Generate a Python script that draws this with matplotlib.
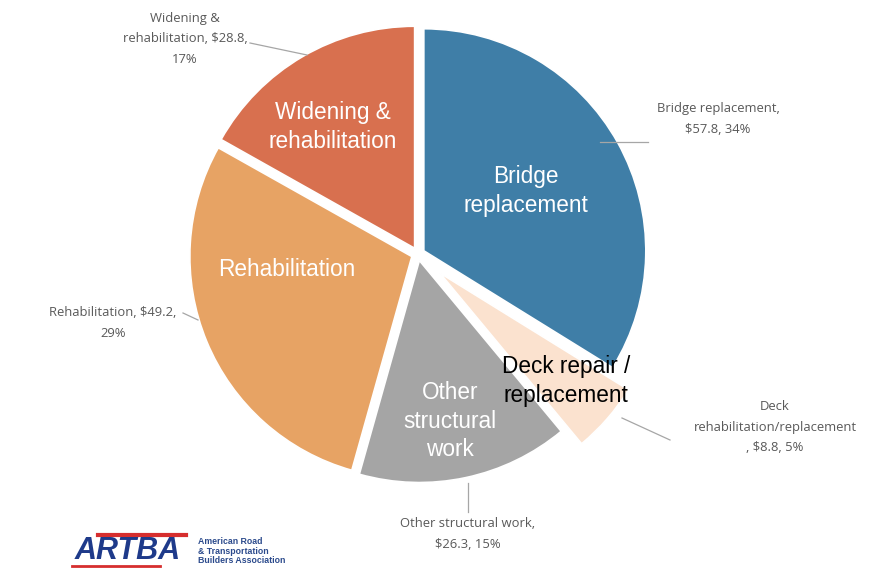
import matplotlib
matplotlib.use("Agg")
import matplotlib.pyplot as plt
from matplotlib.lines import Line2D

# ---- data ----
categories = ["Bridge replacement", "Deck rehabilitation/replacement",
              "Other structural work", "Rehabilitation", "Widening & rehabilitation"]
values = [57.8, 8.8, 26.3, 49.2, 28.8]
percents = [34, 5, 15, 29, 17]
inner_labels = ["Bridge\nreplacement", "Deck repair /\nreplacement",
                "Other\nstructural\nwork", "Rehabilitation", "Widening &\nrehabilitation"]
outer_labels = ["Bridge replacement,\n$57.8, 34%",
                "Deck\nrehabilitation/replacement\n, $8.8, 5%",
                "Other structural work,\n$26.3, 15%",
                "Rehabilitation, $49.2,\n29%",
                "Widening &\nrehabilitation, $28.8,\n17%"]

# ---- style ----
colors = ["#3F7EA7", "#FBE2CF", "#A5A5A5", "#E7A364", "#D8704F"]
explode = [0.03, 0.13, 0.03, 0.03, 0.03]
inner_colors = ["white", "black", "white", "white", "white"]

W, H = 879, 572
CX, CY, R = 418, 254, 222  # pixel centre (from top) and radius

fig = plt.figure(figsize=(W / 100, H / 100), dpi=100)
ax = fig.add_axes([0, 0, 1, 1])
ax.pie(values, colors=colors, startangle=90, counterclock=False,
       explode=explode, radius=1,
       wedgeprops=dict(edgecolor="white", linewidth=1.2))
ax.set_xlim(-CX / R, (W - CX) / R)
ax.set_ylim(-(H - CY) / R, CY / R)
ax.set_aspect("auto")
ax.axis("off")


def px(x, y):
    """pixel (from top-left) -> data coords"""
    return (x - CX) / R, (CY - y) / R


# inner labels
inner_pos = [(526, 191), (566, 381), (450, 421), (287, 270), (333, 127)]
for lab, (x, y), c in zip(inner_labels, inner_pos, inner_colors):
    ax.text(*px(x, y), lab, ha="center", va="center", color=c,
            fontsize=16.3, family="Liberation Sans", linespacing=1.3)

# outer labels
outer_pos = [(718, 119), (775, 427), (468, 534), (113, 323), (185, 39)]
for lab, (x, y) in zip(outer_labels, outer_pos):
    ax.text(*px(x, y), lab, ha="center", va="center", color="#595959",
            fontsize=9.4, family="Open Sans", linespacing=1.75)

# leader lines
leaders = [((600, 142), (648, 142)),
           ((622, 418), (670, 440)),
           ((468, 483), (468, 512)),
           ((183, 313), (198, 320)),
           ((250, 43), (307, 55))]
for (x1, y1), (x2, y2) in leaders:
    p1, p2 = px(x1, y1), px(x2, y2)
    ax.plot([p1[0], p2[0]], [p1[1], p2[1]], color="#A6A6A6", lw=0.9)

# logo
def fpx(x, y):
    return x / W, 1 - y / H

fig.add_artist(Line2D([fpx(98, 0)[0], fpx(186, 0)[0]], [fpx(0, 535)[1]] * 2,
                      color="#D62E2E", lw=3))
fig.add_artist(Line2D([fpx(72, 0)[0], fpx(160, 0)[0]], [fpx(0, 566)[1]] * 2,
                      color="#D62E2E", lw=2))
fig.text(*fpx(128, 551), "ARTBA", ha="center", va="center", color="#1E3A8A",
         fontsize=22, fontweight="bold", style="italic", family="Liberation Sans")
fig.text(*fpx(198, 551), "American Road\n& Transportation\nBuilders Association",
         ha="left", va="center", color="#2B4A8C", fontsize=6.3, fontweight="bold",
         family="Liberation Sans", linespacing=1.05)

fig.savefig("out.png", dpi=100, facecolor="white")
